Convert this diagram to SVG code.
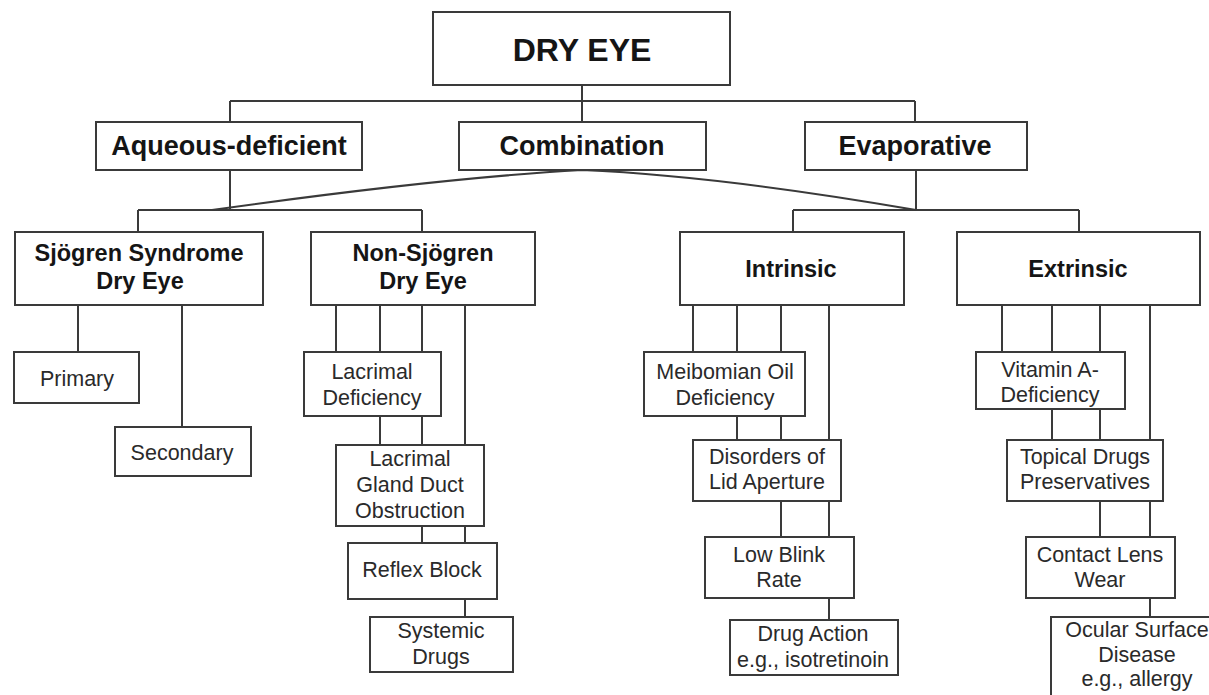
<svg xmlns="http://www.w3.org/2000/svg" width="1209" height="695" viewBox="0 0 1209 695">
<style>
.box{fill:#fff;stroke:#3a3a3a;stroke-width:2}
.c{fill:none;stroke:#3a3a3a;stroke-width:2}
text{font-family:"Liberation Sans",Arial,Helvetica,sans-serif;text-anchor:middle}
.t0{font-size:32px;font-weight:bold;fill:#151515}
.t1{font-size:27px;font-weight:bold;fill:#151515}
.t2{font-size:23.5px;font-weight:bold;fill:#151515}
.t3{font-size:21.5px;fill:#2a2a2a}
</style>
<rect width="1209" height="695" fill="#fff"/>
<g id="connectors">
<path class="c" d="M230,101H915M582,85V122M230,101V122M915,101V122"/>
<path class="c" d="M230,170V210M138,210H422M138,210V232M422,210V232"/>
<path class="c" d="M916,170V210M793,210H1079M793,210V232M1079,210V232"/>
<path class="c" d="M582,170Q440,178 212,210M582,170Q720,176 916,210"/>
<path class="c" d="M78,305V352M182,305V427"/>
<path class="c" d="M336,305V352M380,305V352M380,416V445M422,305V352M422,416V445M422,526V543M465,305V445M465,526V543M465,599V617"/>
<path class="c" d="M693,305V352M737,305V352M737,416V440M781,305V352M781,416V440M781,501V537M829,305V440M829,501V537M829,598V620"/>
<path class="c" d="M1002,305V352M1052,305V352M1052,409V440M1100,305V352M1100,409V440M1100,501V537M1150,305V440M1150,501V537M1150,598V617"/>
</g>
<g id="dry-eye"><rect class="box" x="433" y="12" width="297" height="73"/><text class="t0" x="582" y="61">DRY EYE</text></g>
<g id="aqueous"><rect class="box" x="96" y="122" width="266" height="48"/><text class="t1" x="229" y="155">Aqueous-deficient</text></g>
<g id="combination"><rect class="box" x="459" y="122" width="247" height="48"/><text class="t1" x="582" y="155">Combination</text></g>
<g id="evaporative"><rect class="box" x="805" y="122" width="222" height="48"/><text class="t1" x="915" y="155">Evaporative</text></g>
<g id="sjogren"><rect class="box" x="15" y="232" width="248" height="73"/><text class="t2" x="139" y="261">Sjögren Syndrome</text><text class="t2" x="140" y="289">Dry Eye</text></g>
<g id="non-sjogren"><rect class="box" x="311" y="232" width="224" height="73"/><text class="t2" x="423" y="261">Non-Sjögren</text><text class="t2" x="423" y="289">Dry Eye</text></g>
<g id="intrinsic"><rect class="box" x="680" y="232" width="224" height="73"/><text class="t2" x="791" y="277">Intrinsic</text></g>
<g id="extrinsic"><rect class="box" x="957" y="232" width="243" height="73"/><text class="t2" x="1078" y="277">Extrinsic</text></g>
<g id="primary"><rect class="box" x="14" y="352" width="125" height="51"/><text class="t3" x="77" y="386">Primary</text></g>
<g id="secondary"><rect class="box" x="115" y="427" width="136" height="49"/><text class="t3" x="182" y="460">Secondary</text></g>
<g id="lacrimal-deficiency"><rect class="box" x="304" y="352" width="137" height="64"/><text class="t3" x="372" y="379">Lacrimal</text><text class="t3" x="372" y="405">Deficiency</text></g>
<g id="lacrimal-gland"><rect class="box" x="336" y="445" width="148" height="81"/><text class="t3" x="410" y="466">Lacrimal</text><text class="t3" x="410" y="492">Gland Duct</text><text class="t3" x="410" y="518">Obstruction</text></g>
<g id="reflex-block"><rect class="box" x="348" y="543" width="149" height="56"/><text class="t3" x="422" y="577">Reflex Block</text></g>
<g id="systemic-drugs"><rect class="box" x="370" y="617" width="143" height="55"/><text class="t3" x="441" y="638">Systemic</text><text class="t3" x="441" y="664">Drugs</text></g>
<g id="meibomian"><rect class="box" x="644" y="352" width="161" height="64"/><text class="t3" x="725" y="379">Meibomian Oil</text><text class="t3" x="725" y="405">Deficiency</text></g>
<g id="lid-aperture"><rect class="box" x="693" y="440" width="148" height="61"/><text class="t3" x="767" y="464">Disorders of</text><text class="t3" x="767" y="489">Lid Aperture</text></g>
<g id="low-blink"><rect class="box" x="705" y="537" width="149" height="61"/><text class="t3" x="779" y="562">Low Blink</text><text class="t3" x="779" y="587">Rate</text></g>
<g id="drug-action"><rect class="box" x="730" y="620" width="168" height="55"/><text class="t3" x="813" y="641">Drug Action</text><text class="t3" x="813" y="667">e.g., isotretinoin</text></g>
<g id="vitamin-a"><rect class="box" x="976" y="352" width="149" height="57"/><text class="t3" x="1050" y="377">Vitamin A-</text><text class="t3" x="1050" y="402">Deficiency</text></g>
<g id="topical-drugs"><rect class="box" x="1007" y="440" width="156" height="61"/><text class="t3" x="1085" y="464">Topical Drugs</text><text class="t3" x="1085" y="489">Preservatives</text></g>
<g id="contact-lens"><rect class="box" x="1026" y="537" width="149" height="61"/><text class="t3" x="1100" y="562">Contact Lens</text><text class="t3" x="1100" y="587">Wear</text></g>
<g id="ocular-surface"><rect class="box" x="1051" y="617" width="172" height="90"/><text class="t3" x="1137" y="637">Ocular Surface</text><text class="t3" x="1137" y="662">Disease</text><text class="t3" x="1137" y="686">e.g., allergy</text></g>
</svg>
